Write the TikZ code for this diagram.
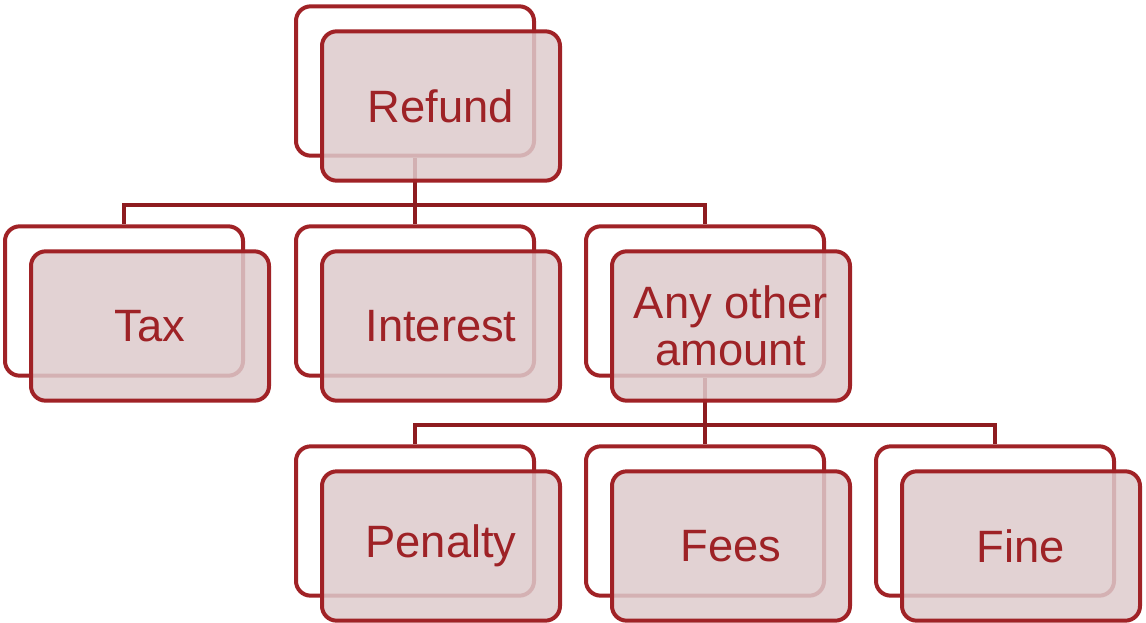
\documentclass[tikz,border=0pt]{standalone}
\usepackage{fontspec}
\setmainfont{Liberation Sans}
\definecolor{bord}{RGB}{160,34,38}
\definecolor{conncol}{RGB}{142,28,32}
\definecolor{frontfill}{RGB}{222,203,204}
\definecolor{txtcol}{RGB}{158,34,38}
\begin{document}
\begin{tikzpicture}[x=0.75pt,y=-0.75pt,
  backbox/.style={draw=bord,fill=white,line width=3pt,rounded corners=11pt,
    minimum width=178.5pt,minimum height=112pt,inner sep=0pt},
  frontbox/.style={draw=bord,fill=frontfill,fill opacity=0.85,draw opacity=1,text opacity=1,
    line width=3pt,rounded corners=11pt,minimum width=178.5pt,minimum height=112pt,inner sep=0pt,
    text=txtcol,font=\fontsize{34}{35.5}\selectfont,align=center},
  conn/.style={draw=conncol,line width=3pt}]
\useasboundingbox (0,0) rectangle (1146,622);
% junction coordinates
\coordinate (j1) at (415,205);
\coordinate (j2) at (705,425);
% invisible placeholders to route connectors beneath the boxes
\begin{scope}[backbox/.append style={draw=none,fill=none}]
\node[backbox] (rb) at (415,81) {};
\node[backbox] (tb) at (124,301) {};
\node[backbox] (ib) at (415,301) {};
\node[backbox] (ab) at (705,301) {};
\node[backbox] (pb) at (415,521) {};
\node[backbox] (fb) at (705,521) {};
\node[backbox] (nb) at (995,521) {};
\end{scope}
% connectors
\draw[conn] (rb.south) -- (j1);
\draw[conn] (j1) -| (tb.north);
\draw[conn] (j1) -- (ib.north);
\draw[conn] (j1) -| (ab.north);
\draw[conn] (ab.south) -- (j2);
\draw[conn] (j2) -| (pb.north);
\draw[conn] (j2) -- (fb.north);
\draw[conn] (j2) -| (nb.north);
% boxes
\node[backbox] at (rb) {};
\node[frontbox] (rf) at (441,106) {Refund};
\node[backbox] at (tb) {};
\node[frontbox] (tf) at (150,326) {Tax};
\node[backbox] at (ib) {};
\node[frontbox] (if) at (441,326) {Interest};
\node[backbox] at (ab) {};
\node[frontbox] (af) at (731,326) {Any other\\amount};
\node[backbox] at (pb) {};
\node[frontbox] (pf) at (441,546) {Penalty};
\node[backbox] at (fb) {};
\node[frontbox] (ff) at (731,546) {Fees};
\node[backbox] at (nb) {};
\node[frontbox] (nf) at (1021,546) {Fine};
\end{tikzpicture}
\end{document}
